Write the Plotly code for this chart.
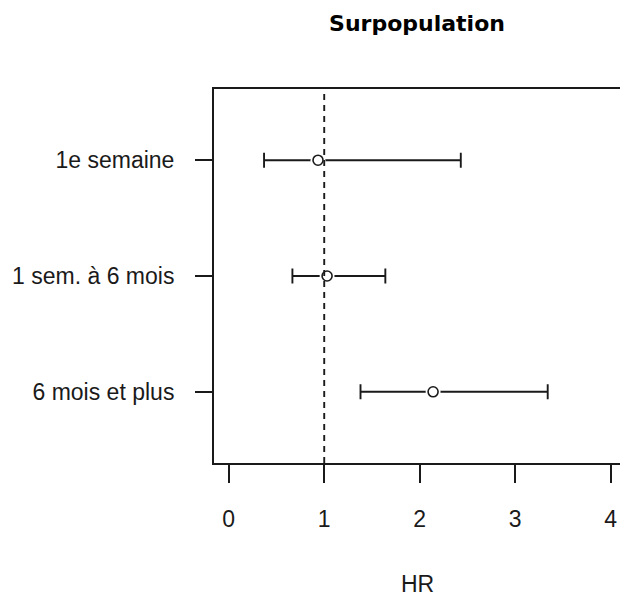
import plotly.graph_objects as go

categories = ["1e semaine", "1 sem. à 6 mois", "6 mois et plus"]
positions = [3, 2, 1]
hr = [0.935, 1.03, 2.14]
lower = [0.37, 0.667, 1.38]
upper = [2.43, 1.64, 3.34]
x_ticks = [0, 1, 2, 3, 4]

ink = "#1a1a1a"
font = "Liberation Sans, Arial, sans-serif"

fig = go.Figure()
fig.add_trace(go.Scatter(
    x=hr, y=positions, mode="markers",
    marker=dict(size=1, color="rgba(0,0,0,0)"),
    error_x=dict(type="data", symmetric=False,
                 array=[u - h for u, h in zip(upper, hr)],
                 arrayminus=[h - l for h, l in zip(hr, lower)],
                 color=ink, thickness=1.9, width=7.5),
    showlegend=False, hoverinfo="skip"))
fig.add_trace(go.Scatter(
    x=hr, y=positions, mode="markers",
    marker=dict(size=15, color="white", line=dict(width=0)),
    showlegend=False, hoverinfo="skip"))
fig.add_trace(go.Scatter(
    x=hr, y=positions, mode="markers",
    marker=dict(size=10, color="white", symbol="circle",
                line=dict(width=1.6, color=ink)),
    showlegend=False))

fig.add_shape(type="line", xref="x", yref="paper", x0=1, x1=1, y0=0, y1=1,
              line=dict(color=ink, width=1.9, dash="6px,5px"))

fig.update_layout(
    width=620, height=597,
    margin=dict(l=214, r=0, t=89, b=134),
    paper_bgcolor="white", plot_bgcolor="white",
    font=dict(family=font, size=23, color=ink),
    title=dict(text="<b>Surpopulation</b>", x=0.5, xref="paper",
               y=1 - 23 / 597, yref="container", yanchor="middle", xanchor="center",
               font=dict(family="DejaVu Sans, sans-serif", size=22, color="black")),
    annotations=[dict(text="HR", xref="paper", yref="paper", x=0.5,
                      y=-(584 - 463) / 374, xanchor="center", yanchor="middle",
                      showarrow=False, font=dict(size=23, color=ink))],
)
fig.update_xaxes(
    range=[-0.154, 4.097], tickvals=x_ticks, ticktext=[str(v) for v in x_ticks],
    showline=True, mirror=True, linecolor=ink, linewidth=2,
    ticks="outside", ticklen=18, tickwidth=2, tickcolor=ink,
    showgrid=False, zeroline=False, ticklabelstandoff=16)
fig.update_yaxes(
    range=[0.385, 3.615], tickvals=positions, ticktext=categories,
    showline=True, mirror=False, linecolor=ink, linewidth=2,
    ticks="outside", ticklen=17, tickwidth=2, tickcolor=ink,
    showgrid=False, zeroline=False, ticklabelstandoff=16)

fig.write_html("out.html",
               config={"displayModeBar": False},
               post_script="document.body.style.margin='0';"
                           "document.body.style.overflow='hidden';")
